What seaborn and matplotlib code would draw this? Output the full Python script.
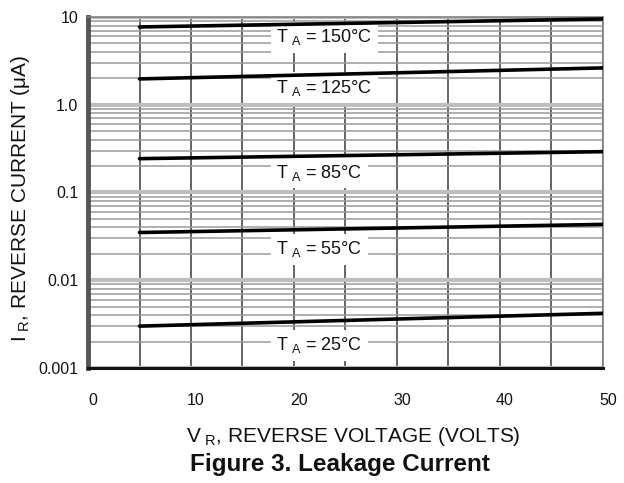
import matplotlib
matplotlib.use("Agg")
import matplotlib.pyplot as plt
import matplotlib.ticker as mticker
import matplotlib.transforms as mtransforms
import seaborn as sns
import pandas as pd

# ---- data ----
voltage = [5, 50]
temps = ["150", "125", "85", "55", "25"]
cur_150 = [7.7, 9.5]
cur_125 = [1.97, 2.63]
cur_85 = [0.243, 0.292]
cur_55 = [0.035, 0.0433]
cur_25 = [0.0030, 0.0042]
x_ticks = [0, 10, 20, 30, 40, 50]
y_ticks = [0.001, 0.01, 0.1, 1, 10]
y_tick_labels = ["0.001", "0.01", "0.1", "1.0", "10"]
label_texts = ["150°C", "125°C", "85°C", "55°C", "25°C"]
label_y = [5.9, 1.56, 0.169, 0.0225, 0.00182]
label_x = 18.3

series = [cur_150, cur_125, cur_85, cur_55, cur_25]
rows = []
for t, vals in zip(temps, series):
    for v, c in zip(voltage, vals):
        rows.append({"V": v, "I": c, "T": t})
df = pd.DataFrame(rows)

sns.set_style("white")
plt.rcParams["font.family"] = ["Liberation Sans", "DejaVu Sans"]
plt.rcParams["mathtext.fontset"] = "custom"
plt.rcParams["mathtext.rm"] = "Liberation Sans"

fig = plt.figure(figsize=(6.24, 4.83), dpi=100)
ax = fig.add_axes([88 / 624, 1 - 368 / 483, (603 - 88) / 624, (368 - 17) / 483])

sns.lineplot(data=df, x="V", y="I", hue="T", palette=["black"] * 5,
             linewidth=2.6, legend=False, ax=ax, zorder=5)

ax.set_yscale("log")
ax.set_xlim(0, 50)
ax.set_ylim(0.001, 10)

ax.xaxis.set_major_locator(mticker.FixedLocator(x_ticks))
ax.xaxis.set_minor_locator(mticker.MultipleLocator(5))
ax.set_xticklabels([str(v) for v in x_ticks])
ax.yaxis.set_major_locator(mticker.FixedLocator(y_ticks))
ax.yaxis.set_minor_locator(mticker.LogLocator(base=10, subs=range(2, 10)))
ax.yaxis.set_minor_formatter(mticker.NullFormatter())
ax.set_yticklabels(y_tick_labels)

ax.tick_params(axis="both", which="both", length=0)
ax.tick_params(axis="x", pad=18, labelsize=11.5, colors="#111")
ax.tick_params(axis="y", pad=7, labelsize=11.5, colors="#111")

# slight right shift of x tick labels as in the scan
shift = mtransforms.ScaledTranslation(5 / 100, 0, fig.dpi_scale_trans)
for lab in ax.get_xticklabels():
    lab.set_transform(lab.get_transform() + shift)

ax.grid(False)
ax.grid(True, axis="x", which="both", color="#3a3a3a", linewidth=1.1, zorder=1)
ax.grid(True, axis="y", which="minor", color="#9a9a9a", linewidth=1.1, zorder=1)
ax.grid(True, axis="y", which="major", color="#bdbdbd", linewidth=3, zorder=1)
ax.set_axisbelow(True)

for s in ["top", "right"]:
    ax.spines[s].set_color("#808080")
    ax.spines[s].set_linewidth(1.2)
ax.spines["left"].set_color("#555555")
ax.spines["left"].set_linewidth(3.5)
ax.spines["bottom"].set_color("#111111")
ax.spines["bottom"].set_linewidth(2.2)

for txt, yv in zip(label_texts, label_y):
    ax.text(label_x, yv, r"$\mathregular{T_{\ A}}$ = " + txt, fontsize=13,
            ha="left", va="center", color="#111", zorder=4,
            bbox=dict(facecolor="white", edgecolor="none", pad=4))

ax.set_xlabel("")
ax.set_ylabel("")

fig.text(353 / 624, 1 - 437 / 483, r"$\mathregular{V_{\ R}}$, REVERSE VOLTAGE (VOLTS)",
         ha="center", va="center", fontsize=15, color="#111")
fig.text(340 / 624, 1 - 465 / 483, "Figure 3. Leakage Current",
         ha="center", va="center", fontsize=17.5, fontweight="bold", color="#111")
fig.text(21 / 624, 1 - 198 / 483, r"$\mathregular{I_{\ R}}$, REVERSE CURRENT (μA)",
         ha="center", va="center", rotation=90, fontsize=15, color="#111")

fig.savefig("out.png", dpi=100)
